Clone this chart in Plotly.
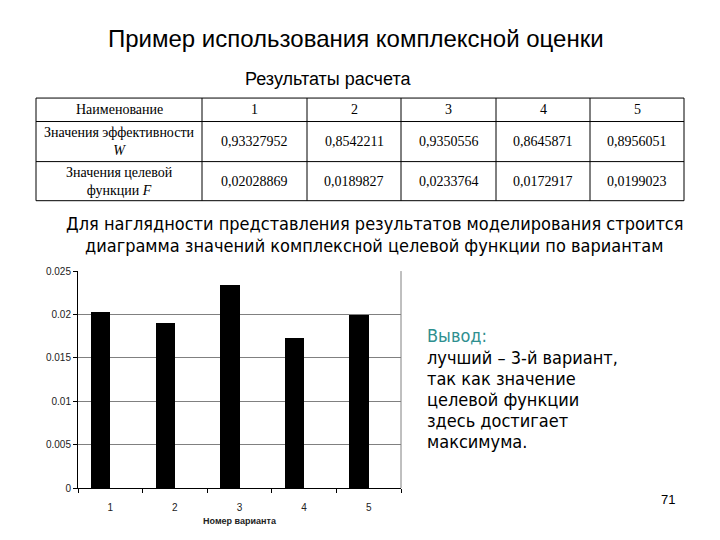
import plotly.graph_objects as go

# ---- data ----
variants = ["1", "2", "3", "4", "5"]
efficiency_W = ["0,93327952", "0,8542211", "0,9350556", "0,8645871", "0,8956051"]
target_F_text = ["0,02028869", "0,0189827", "0,0233764", "0,0172917", "0,0199023"]
target_F = [0.02028869, 0.0189827, 0.0233764, 0.0172917, 0.0199023]
y_tick_vals = [0, 0.005, 0.01, 0.015, 0.02, 0.025]
y_tick_text = ["0", "0.005", "0.01", "0.015", "0.02", "0.025"]
row_names = ["Наименование", "Значения эффективности<br><i>W</i>", "Значения целевой<br>функции <i>F</i>"]
paragraph = ["Для наглядности представления результатов моделирования строится",
             "диаграмма значений комплексной целевой функции по вариантам"]
conclusion = ["лучший – 3-й вариант,", "так как значение", "целевой функции",
              "здесь достигает", "максимума."]

OFF = 8  # page body margin
W, H = 720 - OFF, 540 - OFF


def px(x):
    return (x - OFF) / W


def py(y):
    return 1 - (y - OFF) / H


fig = go.Figure()
fig.add_trace(go.Bar(
    x=variants, y=target_F, marker=dict(color="black", line=dict(width=0)),
    width=0.3, offset=-0.3, showlegend=False,
))

shapes = []
annotations = []

# ---- table ----
col_x = [36, 202, 307, 401, 496, 590, 684]
row_y = [94, 118, 159, 199]
for x in col_x:
    shapes.append(dict(type="line", xref="paper", yref="paper", x0=px(x), x1=px(x),
                       y0=py(row_y[0]), y1=py(row_y[-1]), line=dict(color="black", width=1)))
for y in row_y:
    shapes.append(dict(type="line", xref="paper", yref="paper", x0=px(col_x[0]), x1=px(col_x[-1]),
                       y0=py(y), y1=py(y), line=dict(color="black", width=1)))

table_rows = [variants, efficiency_W, target_F_text]
tfont = dict(family="Liberation Serif, Times New Roman, serif", size=14, color="black")
for r in range(3):
    yc = (row_y[r] + row_y[r + 1]) / 2
    annotations.append(dict(text=row_names[r], xref="paper", yref="paper",
                            x=px((col_x[0] + col_x[1]) / 2), y=py(yc), showarrow=False,
                            font=tfont, xanchor="center", yanchor="middle", align="center"))
    for c in range(5):
        annotations.append(dict(text=table_rows[r][c], xref="paper", yref="paper",
                                x=px((col_x[c + 1] + col_x[c + 2]) / 2), y=py(yc), showarrow=False,
                                font=tfont, xanchor="center", yanchor="middle"))

# ---- titles and texts ----
annotations.append(dict(text="Пример использования комплексной оценки", xref="paper", yref="paper",
                        x=px(356), y=py(33), showarrow=False, xanchor="center", yanchor="middle",
                        font=dict(family="Liberation Sans", size=24, color="black")))
annotations.append(dict(text="Результаты расчета", xref="paper", yref="paper",
                        x=px(328), y=py(74), showarrow=False, xanchor="center", yanchor="middle",
                        font=dict(family="Liberation Sans", size=18, color="black")))
para_font = dict(family="DejaVu Sans Condensed", size=18, color="black")
for i, line in enumerate(paragraph):
    annotations.append(dict(text=line, xref="paper", yref="paper", x=px(374), y=py(222 + 23 * i),
                            showarrow=False, xanchor="center", yanchor="middle", font=para_font))
annotations.append(dict(text="Вывод:", xref="paper", yref="paper", x=px(425), y=py(337),
                        showarrow=False, xanchor="left", yanchor="middle",
                        font=dict(family="DejaVu Sans Condensed", size=18, color="#2E8F8F")))
for i, line in enumerate(conclusion):
    annotations.append(dict(text=line, xref="paper", yref="paper", x=px(425), y=py(359 + 21.6 * i),
                            showarrow=False, xanchor="left", yanchor="middle", font=para_font))
annotations.append(dict(text="71", xref="paper", yref="paper", x=px(668), y=py(505), showarrow=False,
                        xanchor="center", yanchor="middle",
                        font=dict(family="Liberation Sans", size=13, color="black")))

# plot-area right border
shapes.append(dict(type="line", xref="paper", yref="paper", x0=px(401), x1=px(401),
                   y0=py(493), y1=py(271), line=dict(color="#808080", width=1)))

tick_font = dict(family="Liberation Sans", size=10, color="#222")
fig.update_layout(
    width=W, height=H, margin=dict(l=0, r=0, t=0, b=0),
    paper_bgcolor="white", plot_bgcolor="white",
    shapes=shapes, annotations=annotations, bargap=0,
    xaxis=dict(domain=[px(78), px(401)], type="category", tickson="boundaries",
               ticks="outside", ticklen=4, tickcolor="black", showline=True, linecolor="black",
               showgrid=False, tickfont=tick_font, ticklabelstandoff=10,
               title=dict(text="<b>Номер варианта</b>", standoff=5,
                          font=dict(family="Liberation Sans", size=9, color="#222"))),
    yaxis=dict(domain=[py(493), py(271)], range=[0, 0.025], tickvals=y_tick_vals, ticktext=y_tick_text,
               ticks="outside", ticklen=4, tickcolor="black", showline=True, linecolor="black",
               showgrid=True, gridcolor="#808080", gridwidth=1, zeroline=False,
               tickfont=tick_font),
)

fig.write_html("out.html")
